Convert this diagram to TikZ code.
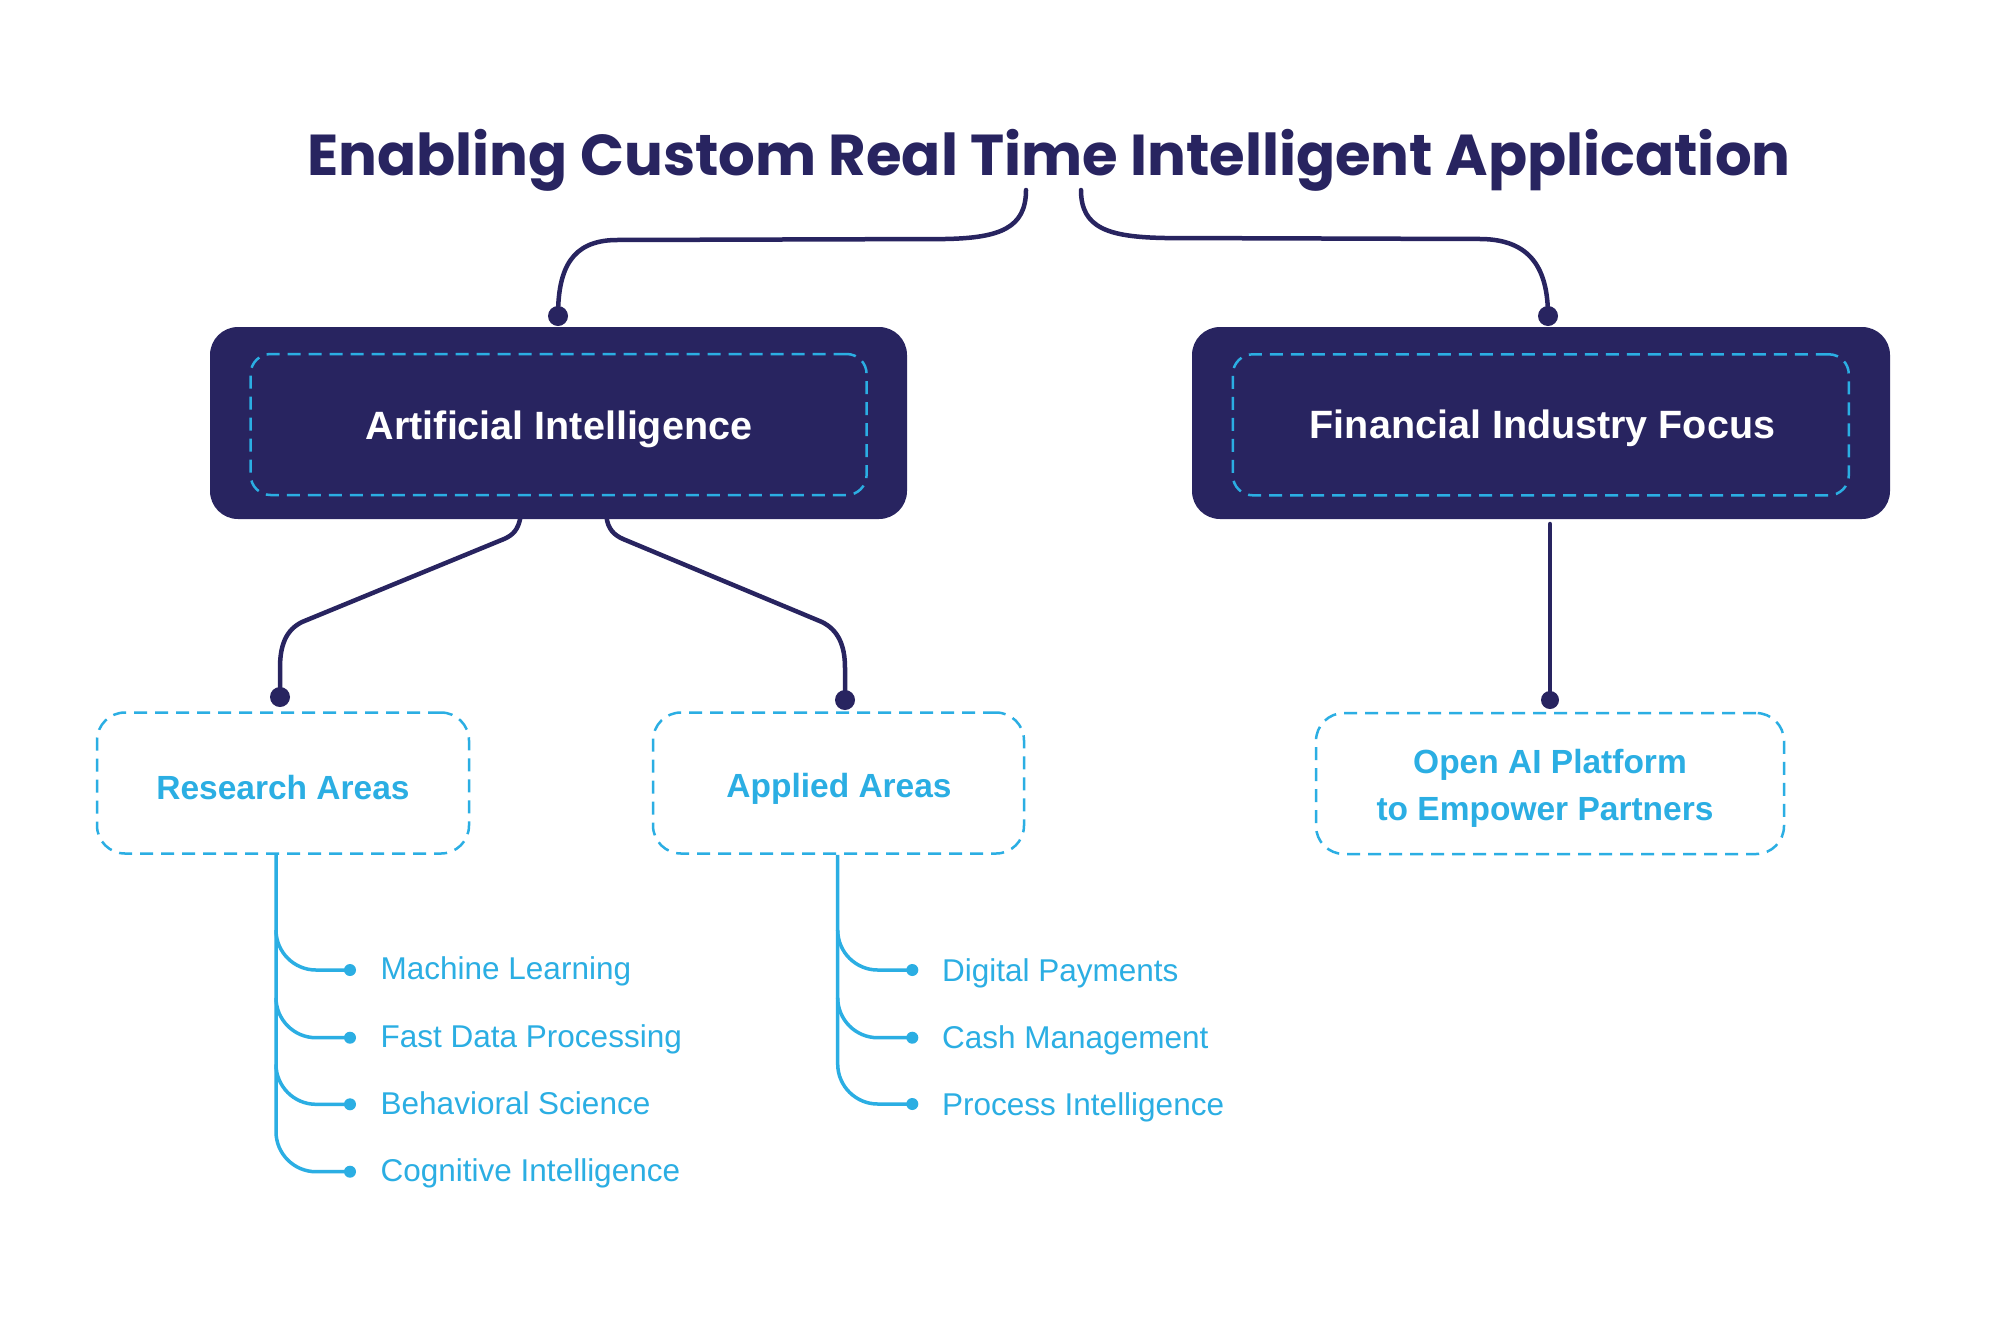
\documentclass[tikz,border=0pt]{standalone}
\usepackage{fontspec}
\setmainfont{Liberation Sans}
\newfontfamily\titlefont{Poppins}
\usetikzlibrary{calc}
\definecolor{navy}{HTML}{282460}
\definecolor{sky}{HTML}{2BAEE3}
\begin{document}
\begin{tikzpicture}[x=1pt,y=-1pt,
  navyline/.style={draw=navy,line width=4.5pt,line cap=round},
  skyline/.style={draw=sky,line width=3.5pt},
  navydot/.style={circle,fill=navy,inner sep=0pt,minimum size=20pt},
  skydot/.style={circle,fill=sky,inner sep=0pt,minimum size=12pt},
  darkbox/.style={fill=navy,rounded corners=28pt,inner sep=0pt},
  innerdash/.style={draw=sky,line width=2.5pt,dash pattern=on 13pt off 8pt,rounded corners=20pt,inner sep=0pt},
  bluebox/.style={draw=sky,line width=2.5pt,dash pattern=on 13pt off 8pt,rounded corners=28pt,inner sep=0pt,minimum height=141pt},
  headtext/.style={text=white,font=\fontsize{39.5}{44}\selectfont\bfseries,inner sep=0pt,anchor=base},
  bluetext/.style={text=sky,font=\fontsize{33.5}{40}\selectfont\bfseries,inner sep=0pt,anchor=base},
  itemtext/.style={text=sky,font=\fontsize{31.5}{36}\selectfont,inner sep=0pt,anchor=base west},
]
\useasboundingbox[fill=white] (0,0) rectangle (2008,1334);

% title
\node[text=navy,font=\fontsize{57.7}{62}\selectfont\titlefont\bfseries,inner sep=0pt,anchor=base] (title) at (1049,175) {Enabling Custom Real Time Intelligent Application};
\coordinate (tL) at (1026,190);
\coordinate (tR) at (1081,190);

% dark boxes
\node[darkbox,minimum width=697pt,minimum height=192pt] (ai) at (558.5,423) {};
\node[innerdash,minimum width=616pt,minimum height=141pt] (aiin) at (558.6,424.5) {};
\node[headtext] (aitext) at (559,439) {Artificial Intelligence};

\node[darkbox,minimum width=698pt,minimum height=192pt] (fif) at (1541,423) {};
\node[innerdash,minimum width=616pt,minimum height=141pt] (fifin) at (1540.8,424.8) {};
\node[headtext] (fiftext) at (1542.5,438.6) {Financial Industry Focus};

% title connectors
\node[navydot] (d1) at (558,316) {};
\node[navydot] (d2) at (1548,316) {};
\draw[navyline] (tL) .. controls (1026,228) and (1000,238) .. (945,239) -- (615,240) .. controls (572,241) and (558,268) .. (d1.center);
\draw[navyline] (tR) .. controls (1081,228) and (1108,237) .. (1165,238) -- (1482,239) .. controls (1530,240) and (1548,268) .. (d2.center);

% blue boxes
\node[bluebox,minimum width=372pt] (ra) at (283,783) {};
\node[bluetext] (ratext) at (283,799) {Research Areas};
\node[bluebox,minimum width=371pt] (aa) at (838.5,783) {};
\node[bluetext] (aatext) at (839,797) {Applied Areas};
\node[bluebox,minimum width=468pt] (oa) at (1550,783.5) {};
\node[bluetext] (oatext1) at (1550,773.6) {Open AI Platform};
\node[bluetext] (oatext2) at (1545,820) {to Empower Partners};

% AI connectors
\node[navydot] (d3) at (280,697) {};
\node[navydot] (d4) at (845,700) {};
\draw[navyline] ($(ai.south)+(-38,-2)$) .. controls (518,530) and (513,535) .. (504,539) -- (302,622) .. controls (286,630) and (280,645) .. (280,668) -- (d3.center);
\draw[navyline] ($(ai.south)+(48,-2)$) .. controls (608,529) and (614,535) .. (623,539) -- (822,622) .. controls (838,630) and (845,645) .. (845,668) -- (d4.center);

% FIF connector
\node[navydot,minimum size=18pt] (d5) at (1550,700) {};
\draw[navyline] (1550,524) -- (d5.center);

% research list
\foreach \n/\yy in {1/970,2/1037.7,3/1104.3,4/1171.7}{
  \node[skydot] (r\n) at (350,\yy) {};
}
\draw[skyline] ($(ra.south)+(-7,0)$) -- (276,1131.7) .. controls (276,1153.7) and (294,1171.7) .. (316,1171.7) -- (r4.center);
\draw[skyline] (276,930) .. controls (276,952) and (294,970) .. (316,970) -- (r1.center);
\draw[skyline] (276,997.7) .. controls (276,1019.7) and (294,1037.7) .. (316,1037.7) -- (r2.center);
\draw[skyline] (276,1064.3) .. controls (276,1086.3) and (294,1104.3) .. (316,1104.3) -- (r3.center);
\node[itemtext] (rt1) at (380.5,979.5) {Machine Learning};
\node[itemtext] (rt2) at (380.5,1047.2) {Fast Data Processing};
\node[itemtext] (rt3) at (380.5,1114) {Behavioral Science};
\node[itemtext] (rt4) at (380.5,1181.4) {Cognitive Intelligence};

% applied list
\foreach \n/\yy in {1/970,2/1037.7,3/1104}{
  \node[skydot] (a\n) at (912.3,\yy) {};
}
\draw[skyline] ($(aa.south)+(-0.8,0)$) -- (837.7,1064) .. controls (837.7,1086) and (855.7,1104) .. (877.7,1104) -- (a3.center);
\draw[skyline] (837.7,930) .. controls (837.7,952) and (855.7,970) .. (877.7,970) -- (a1.center);
\draw[skyline] (837.7,997.7) .. controls (837.7,1019.7) and (855.7,1037.7) .. (877.7,1037.7) -- (a2.center);
\node[itemtext] (at1) at (942,981) {Digital Payments};
\node[itemtext] (at2) at (942,1048.5) {Cash Management};
\node[itemtext] (at3) at (942,1115.5) {Process Intelligence};
\end{tikzpicture}
\end{document}
